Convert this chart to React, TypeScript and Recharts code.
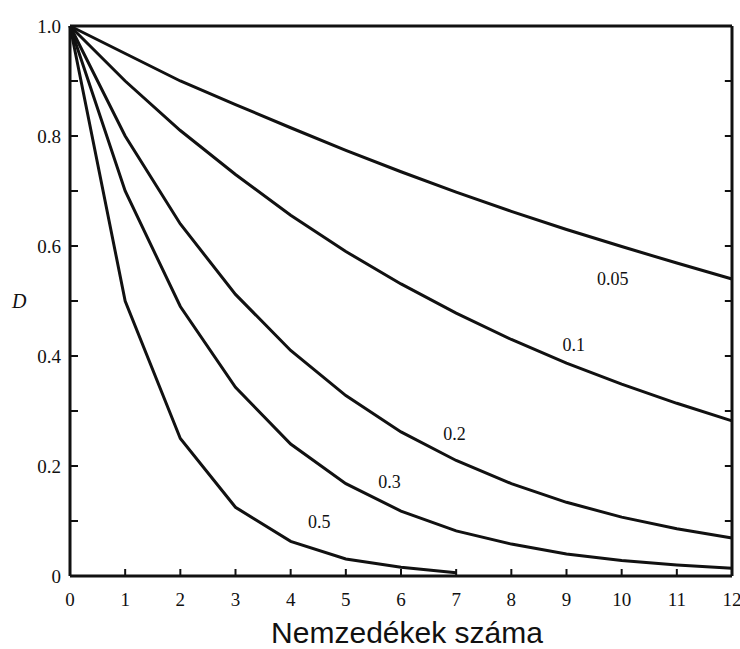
import React from 'react';
import { LineChart, Line, XAxis, YAxis, ReferenceDot, ReferenceLine } from 'recharts';

// generations
const generations = [0, 1, 2, 3, 4, 5, 6, 7, 8, 9, 10, 11, 12];

// D values, one array per recombination rate
const r005 = [1, 0.95, 0.9, 0.857, 0.815, 0.774, 0.735, 0.698, 0.663, 0.63, 0.599, 0.569, 0.54];
const r01 = [1, 0.9, 0.81, 0.73, 0.656, 0.59, 0.531, 0.478, 0.43, 0.387, 0.349, 0.314, 0.282];
const r02 = [1, 0.8, 0.64, 0.512, 0.41, 0.328, 0.262, 0.21, 0.168, 0.134, 0.107, 0.086, 0.069];
const r03 = [1, 0.7, 0.49, 0.343, 0.24, 0.168, 0.118, 0.082, 0.058, 0.04, 0.028, 0.02, 0.014];
const r05 = [1, 0.5, 0.25, 0.125, 0.063, 0.031, 0.016, 0.006];

const xTicks = [0, 1, 2, 3, 4, 5, 6, 7, 8, 9, 10, 11, 12];
const yTicks = [0, 0.1, 0.2, 0.3, 0.4, 0.5, 0.6, 0.7, 0.8, 0.9, 1];
const yLabels = ['0', '', '0.2', '', '0.4', '', '0.6', '', '0.8', '', '1.0'];

const data = generations.map((g, i) => ({
  g,
  a: r005[i],
  b: r01[i],
  c: r02[i],
  d: r03[i],
  e: i < r05.length ? r05[i] : null,
}));

const serif = '"Liberation Serif", "DejaVu Serif", serif';

const BottomTick = (props: any) => {
  const { x, y, payload } = props;
  return (
    <g>
      <line x1={x} y1={y} x2={x} y2={y - 7} stroke="#111" strokeWidth={2} />
      <text x={x} y={y + 30} textAnchor="middle" style={{ fontFamily: serif, fontSize: 19 }} fill="#111">
        {payload.value}
      </text>
    </g>
  );
};

const LeftTick = (props: any) => {
  const { x, y, index } = props;
  return (
    <g>
      <line x1={x} y1={y} x2={x + 8} y2={y} stroke="#111" strokeWidth={2} />
      <text x={x - 9} y={y + 7} textAnchor="end" style={{ fontFamily: serif, fontSize: 19 }} fill="#111">
        {yLabels[index]}
      </text>
    </g>
  );
};

const CurveLabel = (text: string) => (props: any) => {
  const { viewBox } = props;
  return (
    <text
      x={viewBox.x}
      y={viewBox.y + 6}
      textAnchor="middle"
      style={{ fontFamily: serif, fontSize: 18 }}
      fill="#111"
    >
      {text}
    </text>
  );
};

export default function App() {
  return (
    <div style={{ position: 'absolute', left: 0, top: 0, background: '#fff' }}>
      <LineChart width={740} height={649} data={data} margin={{ top: 25, right: 7, bottom: 0, left: 0 }}>
        <XAxis
          dataKey="g"
          type="number"
          domain={[0, 12]}
          ticks={xTicks}
          interval={0}
          height={73}
          tickSize={0}
          tickMargin={0}
          tick={<BottomTick />}
          axisLine={{ stroke: '#111', strokeWidth: 3 }}
          label={{
            value: 'Nemzedékek száma',
            position: 'insideBottom',
            offset: 6,
            dx: 6,
            fontFamily: '"Liberation Sans", Arial, sans-serif',
            fontSize: 30,
            fill: '#111',
          }}
        />
        <XAxis
          xAxisId="top"
          dataKey="g"
          type="number"
          domain={[0, 12]}
          orientation="top"
          height={1}
          tick={false}
          tickLine={false}
          axisLine={{ stroke: '#111', strokeWidth: 3 }}
        />
        <YAxis
          type="number"
          domain={[0, 1]}
          ticks={yTicks}
          interval={0}
          width={70}
          tickSize={0}
          tickMargin={0}
          tick={<LeftTick />}
          axisLine={{ stroke: '#111', strokeWidth: 3 }}
          label={{
            value: 'D',
            position: 'insideLeft',
            offset: 12,
            fontFamily: serif,
            fontStyle: 'italic',
            fontSize: 20,
            fill: '#111',
          }}
        />
        <YAxis
          yAxisId="right"
          orientation="right"
          type="number"
          domain={[0, 1]}
          width={1}
          tick={false}
          tickLine={false}
          axisLine={{ stroke: '#111', strokeWidth: 3 }}
        />
        {/* inward ticks on the right frame */}
        {yTicks.map((v) => (
          <ReferenceLine
            key={v}
            segment={[
              { x: 12, y: v },
              { x: 11.87, y: v },
            ]}
            stroke="#111"
            strokeWidth={2}
          />
        ))}
        <Line type="linear" dataKey="a" stroke="#111" strokeWidth={3} dot={false} isAnimationActive={false} />
        <Line type="linear" dataKey="b" stroke="#111" strokeWidth={3} dot={false} isAnimationActive={false} />
        <Line type="linear" dataKey="c" stroke="#111" strokeWidth={3} dot={false} isAnimationActive={false} />
        <Line type="linear" dataKey="d" stroke="#111" strokeWidth={3} dot={false} isAnimationActive={false} />
        <Line type="linear" dataKey="e" stroke="#111" strokeWidth={3} dot={false} isAnimationActive={false} />
        <ReferenceDot x={9.84} y={0.54} r={0} fill="none" stroke="none" label={CurveLabel('0.05')} />
        <ReferenceDot x={9.13} y={0.42} r={0} fill="none" stroke="none" label={CurveLabel('0.1')} />
        <ReferenceDot x={6.97} y={0.258} r={0} fill="none" stroke="none" label={CurveLabel('0.2')} />
        <ReferenceDot x={5.79} y={0.171} r={0} fill="none" stroke="none" label={CurveLabel('0.3')} />
        <ReferenceDot x={4.52} y={0.098} r={0} fill="none" stroke="none" label={CurveLabel('0.5')} />
      </LineChart>
    </div>
  );
}
